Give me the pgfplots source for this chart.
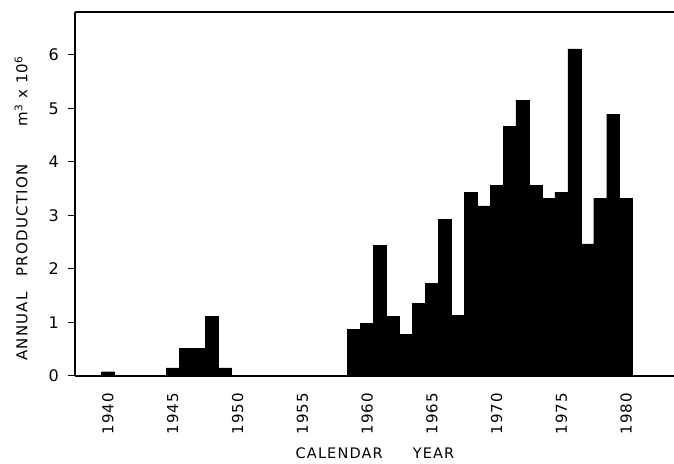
\documentclass[border=0pt]{standalone}
\usepackage{pgfplots}
\pgfplotsset{compat=1.18}
\usepackage{fontspec}
\setmainfont{DejaVu Sans}
\newfontfamily\lsfont{DejaVu Sans}[LetterSpace=8]
\newfontfamily\tickfont{DejaVu Sans}[LetterSpace=6]
\begin{document}
\begin{tikzpicture}
\begin{axis}[
  name=ax,
  scale only axis,
  width=599bp, height=364bp,
  xmin=1937.45, xmax=1983.7,
  ymin=0, ymax=6.80,
  axis x line=box, axis y line=left,
  axis line style={-, line width=1.4bp, black},
  xtick={1940,1945,...,1980},
  ytick={0,1,2,3,4,5,6},
  /pgf/number format/1000 sep={},
  /pgf/number format/assume math mode=true,
  x tick style={draw=none},
  y tick style={line width=1bp, black},
  tick align=outside,
  major tick length=7bp,
  xticklabel style={font=\tickfont\fontsize{15bp}{17bp}\selectfont, rotate=90, anchor=east, inner sep=0pt},
  xticklabel shift=10bp,
  yticklabel style={font=\fontsize{16bp}{18bp}\selectfont, anchor=east, inner sep=0pt},
  yticklabel shift=9bp,
  xlabel={CALENDAR\hspace{30bp}YEAR},
  xlabel style={font=\lsfont\fontsize{14.5bp}{16bp}\selectfont, at={(axis description cs:0.5008,-0.213)}, anchor=center, inner sep=0pt},
  ylabel={ANNUAL\hspace{16bp}PRODUCTION\hspace{38bp}m\textsuperscript{3} x 10\textsuperscript{6}},
  ylabel style={font=\lsfont\fontsize{15bp}{17bp}\selectfont, at={(axis description cs:-0.09,0.46)}, anchor=center, inner sep=0pt},
  ybar, bar width=1,
]
\addplot[fill=black, draw=black, line width=0.3bp] coordinates {
(1940,0.08) (1945,0.15) (1946,0.52) (1947,0.52) (1948,1.12) (1949,0.15)
(1959,0.87) (1960,0.98) (1961,2.44) (1962,1.12) (1963,0.78) (1964,1.36)
(1965,1.73) (1966,2.93) (1967,1.13) (1968,3.43) (1969,3.18) (1970,3.56)
(1971,4.66) (1972,5.15) (1973,3.56) (1974,3.32) (1975,3.43) (1976,6.11)
(1977,2.47) (1978,3.32) (1979,4.89) (1980,3.32)
};
\end{axis}
\pgfresetboundingbox
\path (ax.south west) ++(-75bp,-88bp) rectangle ([shift={(0bp,12bp)}]ax.north east);
\end{tikzpicture}
\end{document}
